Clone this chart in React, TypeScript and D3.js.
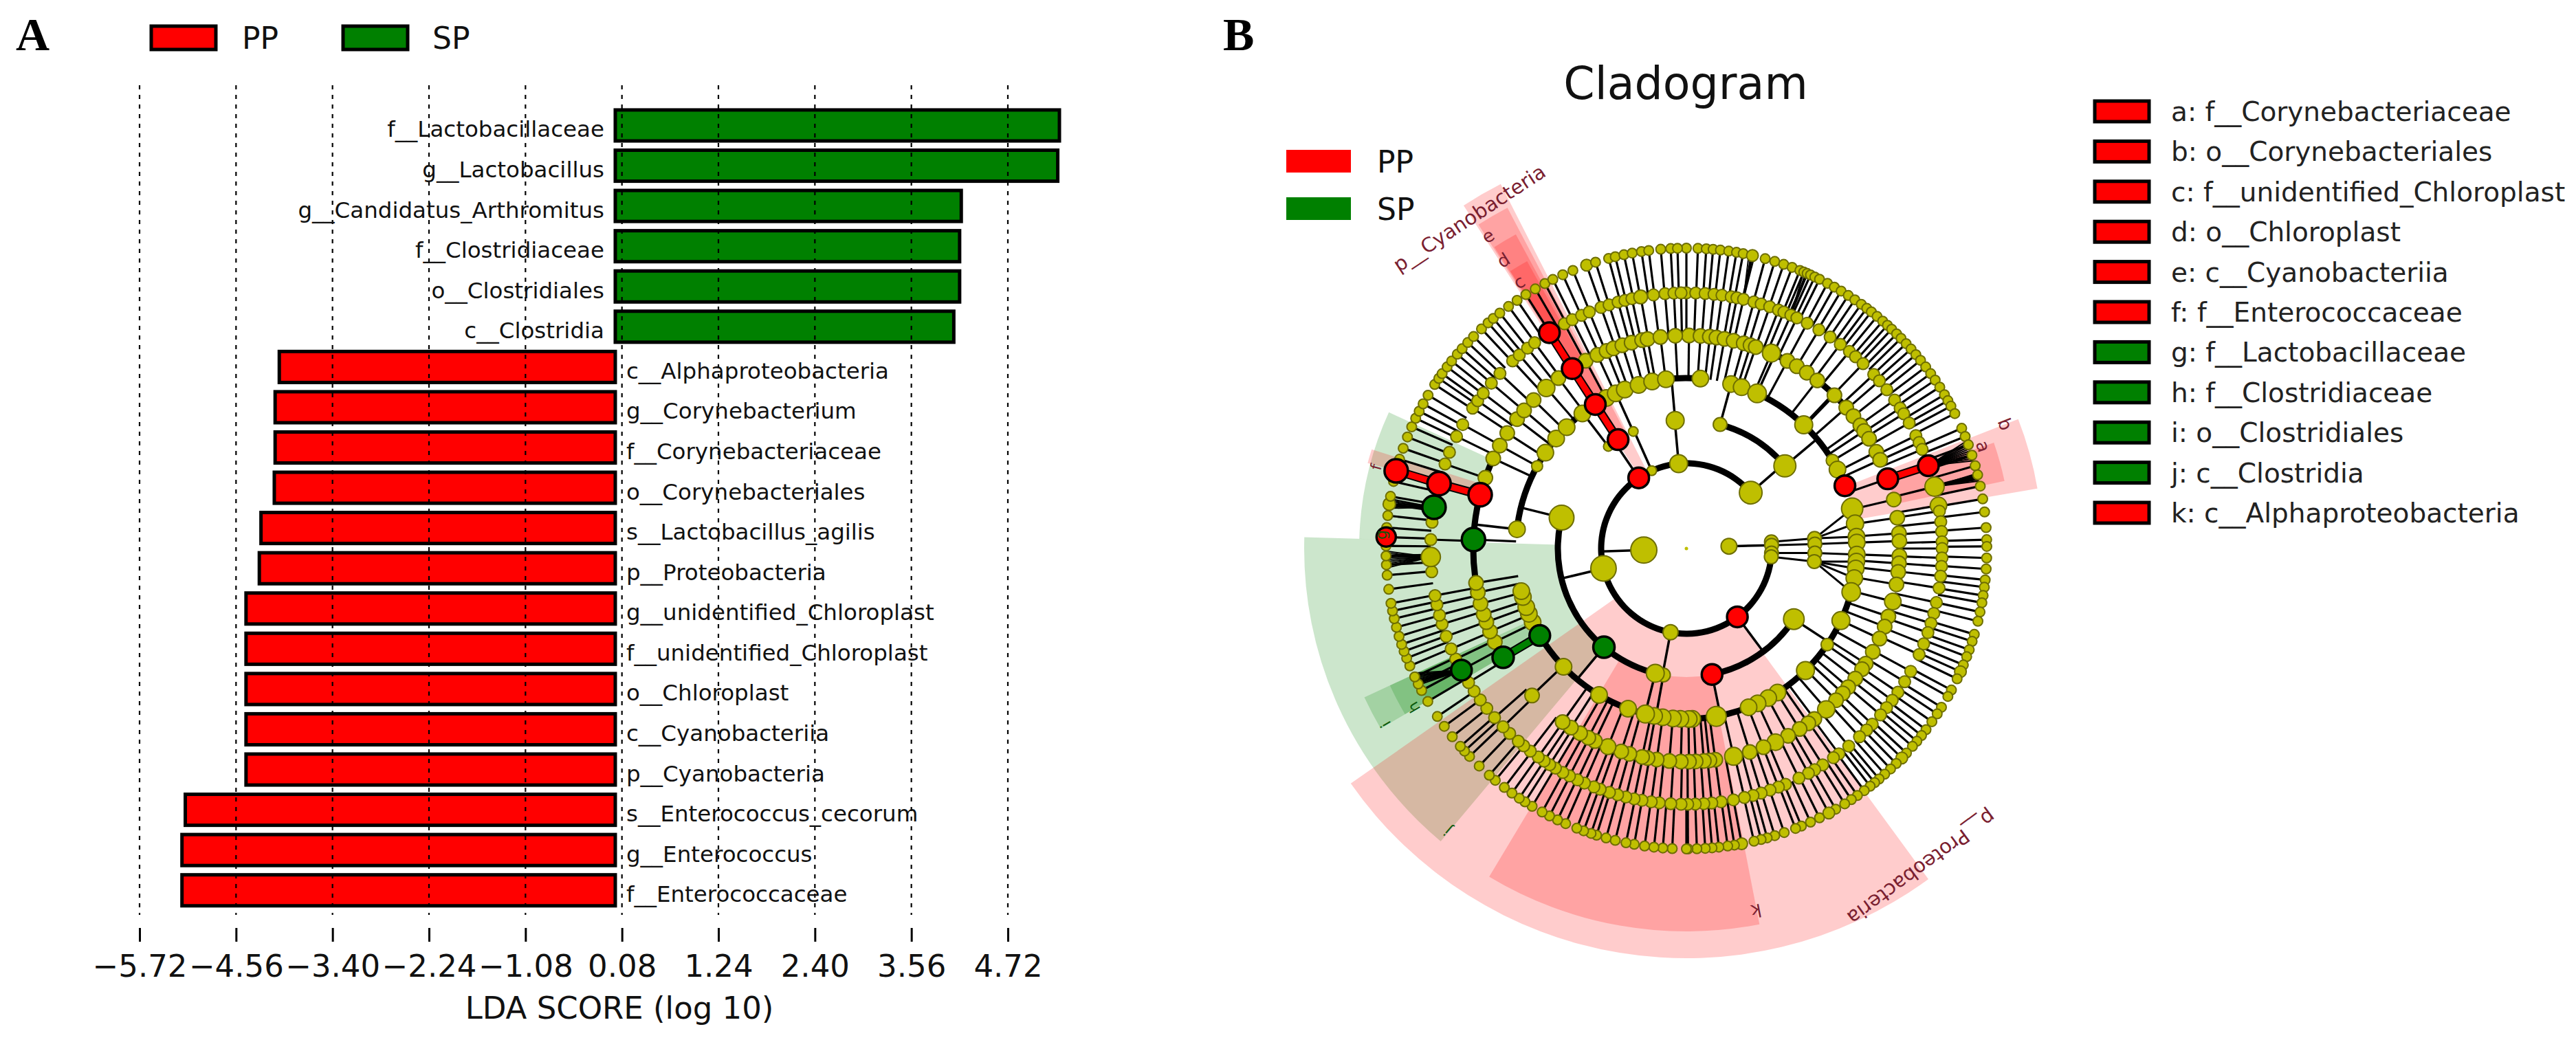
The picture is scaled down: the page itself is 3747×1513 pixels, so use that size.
import { useEffect, useRef } from 'react'
import * as d3 from 'd3'

const FONT = '"DejaVu Sans", sans-serif'
const PP = '#ff0000'
const SP = '#008000'
const OLIVE = '#bfbf00'

// LDA bars, top to bottom
const barLabels = [
  'f__Lactobacillaceae', 'g__Lactobacillus', 'g__Candidatus_Arthromitus', 'f__Clostridiaceae', 'o__Clostridiales',
  'c__Clostridia', 'c__Alphaproteobacteria', 'g__Corynebacterium', 'f__Corynebacteriaceae', 'o__Corynebacteriales',
  's__Lactobacillus_agilis', 'p__Proteobacteria', 'g__unidentified_Chloroplast', 'f__unidentified_Chloroplast',
  'o__Chloroplast', 'c__Cyanobacteriia', 'p__Cyanobacteria', 's__Enterococcus_cecorum', 'g__Enterococcus', 'f__Enterococcaceae'
]
const barValues = [
  5.34, 5.32, 4.16, 4.14, 4.14, 4.07, -4.04, -4.09, -4.09, -4.1, -4.26, -4.28, -4.44, -4.44, -4.44, -4.44, -4.44, -5.17, -5.21, -5.21
]
const ldaTicks = [-5.72, -4.56, -3.4, -2.24, -1.08, 0.08, 1.24, 2.4, 3.56, 4.72]

const cladeLegend = [
  'a: f__Corynebacteriaceae', 'b: o__Corynebacteriales', 'c: f__unidentified_Chloroplast', 'd: o__Chloroplast',
  'e: c__Cyanobacteriia', 'f: f__Enterococcaceae', 'g: f__Lactobacillaceae', 'h: f__Clostridiaceae',
  'i: o__Clostridiales', 'j: c__Clostridia', 'k: c__Alphaproteobacteria'
]
const cladeLegendGroups = ['PP', 'PP', 'PP', 'PP', 'PP', 'PP', 'SP', 'SP', 'SP', 'SP', 'PP']

// cladogram clades: angle in degrees, clockwise from the top, one list per taxonomic ring
const ring1 = [86.9, 268]
const ring2 = [49, 85.5, 87.8, 93, 95.6, 143.3, 190.7, 256.5, 326, 336, 354.8]
const ring3 = [15.2, 50, 85.5, 88, 92, 95.8, 123.3, 168.5, 190.3, 194, 219.9, 283.9, 322.6, 327.9, 335.6, 355]
const ring4 = [
  4.7, 15.2, 18.9, 24.5, 43.5, 58.9, 62.4, 68.4, 76.5, 81.6, 86, 88, 92, 94.4, 96.7, 100, 104.8, 115, 124.3, 135.7, 147.7,
  151.3, 155.3, 158.6, 169.9, 178, 179.2, 182, 184.5, 188, 190.9, 193.9, 200, 210.8, 226.1, 239.3, 244.4, 247.5, 249.9,
  253.5, 255.5, 276.5, 298.9, 304.2, 310.2, 315.4, 322.4, 327.7, 332, 335.5, 338.8, 343.7, 348.4, 353.1
]
const ring5 = [
  0.7, 3.8, 6.3, 8.1, 10.3, 12.8, 15.6, 17.5, 19, 23.5, 28.3, 31.2, 34.4, 37.9, 44, 48.6, 51.6, 54.7, 56.5, 59, 63, 65.4,
  70.9, 76.7, 81.7, 85.9, 88, 92, 94, 96.3, 99.7, 104.4, 108.6, 111.5, 115, 119, 122.7, 124.5, 127.6, 130.6, 132.8, 135.4,
  139, 143.1, 145.1, 147.9, 151.5, 155.3, 158.8, 162.7, 167.2, 172.2, 173.8, 175.3, 177.5, 179.3, 181.5, 184.6, 188, 190.5,
  192, 195.5, 197.8, 201.6, 205.4, 207.4, 209.9, 212.8, 215.5, 226.4, 239.3, 244, 247.1, 249.8, 252, 255, 258.1, 260.7,
  272.4, 284.6, 289.4, 295, 298.9, 302.8, 307.4, 310.4, 314.2, 318.9, 323.1, 327.6, 331.8, 335.3, 338, 340, 342.5, 345.1,
  348, 349.5, 353, 357
]
const ring6 = [
  0, 2.1, 4.2, 6.2, 8, 10.1, 11.4, 12.9, 15.3, 17, 19, 21.1, 22.4, 24.1, 25.6, 28.2, 31.2, 34.2, 37, 39.6, 41.4, 43.7, 47.1,
  49, 51.6, 54.5, 56.7, 58.2, 60.6, 63.8, 65.5, 67.2, 71.1, 76, 80.3, 81.6, 84, 86.2, 88.5, 90, 92.1, 94, 96.2, 98.9, 102.2,
  104.7, 107, 109.2, 111.9, 114.5, 118.7, 121.4, 124.2, 126.4, 128.5, 130.6, 133.4, 135.2, 137.4, 140.6, 143.4, 144.9, 147.8,
  149.9, 151.5, 153.9, 157.2, 158.9, 160.9, 163, 164.9, 166.9, 169.4, 172.2, 174.3, 176.1, 178, 179.7, 181.2, 183.5, 186.1,
  187.9, 190, 191.8, 193.7, 195.6, 197.5, 199.7, 201.2, 203.5, 205.2, 207.2, 208.9, 210.8, 212.3, 213.8, 215.4, 217.6, 219.5,
  221.1, 223.7, 225.8, 228.6, 231.3, 233.7, 236.1, 238.4, 241.6, 244.4, 246.9, 249.9, 252.8, 254.9, 257.3, 259.4, 264.8,
  268.1, 272, 275.9, 279.3, 284.7, 289.3, 292.1, 296, 299, 303.3, 305.3, 307.4, 310.3, 313.2, 317.2, 319.2, 321.6, 323.6,
  327.6, 331.5, 333.5, 335.8, 337.7, 340.5, 342.4, 344.5, 346.1, 347.7, 349.7, 352.6, 355.2, 357.2, 358.8
]
const ring7 = [
  0, 2.2, 3.8, 5.1, 6.5, 8.1, 9.6, 10.9, 12.7, 15.2, 17.1, 18.9, 20.6, 22.2, 23, 23.7, 24.4, 25.3, 26.3, 28, 29.5, 31, 32.6,
  34.1, 35.6, 36.9, 38, 39.4, 40.8, 42, 43.1, 44.4, 45.6, 47, 48.4, 49.8, 51.2, 52.8, 54.4, 55.9, 57.5, 59.2, 60.5, 61.7,
  63.3, 66.4, 68.1, 69.8, 71.9, 74, 75.8, 78, 80.5, 83, 86, 88.3, 89.6, 91.8, 93.9, 96, 97.4, 99, 100.4, 102.2, 104, 106.6,
  108, 109.7, 111.1, 112.8, 114.2, 115.7, 118.1, 119.5, 121.9, 123.4, 125.2, 127.1, 128.5, 129.9, 131.2, 132.9, 134.2, 135.7,
  137.2, 138.7, 140.1, 141.2, 142.3, 143.7, 145.3, 146.7, 148.2, 150.2, 151.7, 153.7, 155.6, 157.5, 158.7, 161, 162.9, 164.4,
  165.6, 167, 169.4, 170.8, 172.1, 173.8, 175.1, 176.4, 178, 179.7, 180, 182.7, 184.5, 186.2, 188, 190, 191.6, 193.7, 195.5,
  197.4, 198.5, 200, 201.4, 203.7, 205.4, 207.1, 208.7, 210.9, 212.5, 213.8, 215.5, 217.3, 219.5, 221, 223.6, 226.2, 227.6,
  228.8, 231.2, 233.7, 236, 239.4, 241.8, 243.2, 244.7, 247, 248.6, 250, 251.4, 253, 254.8, 256.5, 258, 259.5, 262.2, 264.9,
  266.9, 268.6, 270.5, 272.2, 274, 276.3, 278.5, 280, 282.9, 285, 287.3, 289.5, 291.8, 293.9, 295.7, 297.2, 298.8, 300.7,
  303.1, 304.5, 305.6, 307.2, 308.6, 310.3, 311.7, 313.3, 314.9, 317, 318.7, 320, 321.6, 323.7, 325.7, 327.7, 329.8, 331.9,
  333.6, 335.7, 337.8, 340.6, 342.4, 345, 346.3, 348, 349.6, 351.4, 352.8, 355.1, 357, 358.3
]
const rings = [ring1, ring2, ring3, ring4, ring5, ring6, ring7]

const ppClades = [
  [2, 143.3], [2, 326], [3, 168.5], [3, 327.9], [4, 68.4], [4, 327.7], [5, 70.9], [5, 284.6], [5, 327.6],
  [6, 71.1], [6, 284.7], [6, 327.6], [7, 272.2], [7, 285]
]
const spClades = [[3, 219.9], [4, 239.3], [5, 239.3], [5, 272.4], [6, 241.6], [6, 279.3]]

// clades drawn bigger than the rest of their ring: ring, angle, size
const bigClades = [
  [1, 268, 19], [1, 86.9, 11.5], [2, 49, 16.5], [2, 256.5, 18.5], [2, 190.7, 11], [2, 336, 7], [2, 354.8, 13],
  [2, 85.5, 10], [2, 87.8, 10], [2, 93, 10], [2, 95.6, 10], [2, 143.3, 15], [2, 326, 15],
  [3, 283.9, 18], [3, 50, 16], [3, 123.3, 15], [3, 15.2, 10], [3, 194, 13], [3, 190.3, 10], [3, 355, 13],
  [3, 322.6, 7], [3, 335.6, 7], [3, 85.5, 10], [3, 88, 10], [3, 92, 10], [3, 95.8, 10], [3, 168.5, 15], [3, 327.9, 15], [3, 219.9, 15.5],
  [4, 76.5, 15.5], [4, 81.6, 12.5], [4, 104.8, 13.5], [4, 24.5, 13.5], [4, 43.5, 13], [4, 193.9, 13], [4, 135.7, 13],
  [4, 169.9, 14.5], [4, 115, 13], [4, 124.3, 9], [4, 298.9, 8], [4, 58.9, 9], [4, 68.4, 15], [4, 327.7, 15], [4, 239.3, 15],
  [5, 23.5, 13], [5, 139, 12.5], [5, 167.2, 13], [5, 155.3, 12], [5, 201.6, 11.5], [5, 318.9, 12.5], [5, 104.4, 12],
  [5, 70.9, 15], [5, 284.6, 17], [5, 327.6, 15], [5, 239.3, 15.5], [5, 272.4, 17],
  [6, 349.7, 10], [6, 76, 14], [6, 268.1, 14], [6, 80.3, 12], [6, 71.1, 15], [6, 284.7, 17], [6, 327.6, 15], [6, 241.6, 15], [6, 279.3, 17],
  [7, 12.7, 8.5], [7, 340.6, 8.5], [7, 278.5, 9], [7, 151.7, 8.5], [7, 134.2, 8.5], [7, 169.4, 8.5], [7, 114.2, 8.5],
  [7, 285, 17], [7, 272.2, 14]
]

// thick arcs that join sibling clades, ring and angular span
const siblingArcs = [
  [2, 85, 409], [3, 15.2, 50], [3, 123.3, 168.5], [3, 190.3, 283.9],
  [4, 24.5, 68.4], [4, 76.5, 255.5], [4, 276.5, 322.4], [4, 332, 364.7],
  [5, 23.5, 48.6], [5, 255, 295]
]
// clades whose stem runs straight out to the next ring
const stems = [
  [1, 268], [2, 49], [2, 143.3], [2, 190.7], [2, 256.5], [2, 354.8], [2, 336], [2, 326],
  [3, 15.2], [3, 50], [3, 123.3], [3, 168.5], [3, 190.3], [3, 194], [3, 219.9], [3, 283.9], [3, 322.6], [3, 327.9], [3, 335.6], [3, 355],
  [4, 24.5], [4, 43.5], [4, 276.5]
]
// tight bundles of leaves hanging off one genus
const leafFans = [
  { parent: 71.1, leaves: [69, 69.4, 69.8, 70.2, 70.6, 71, 71.4, 71.8, 72.2, 72.6, 73] },
  { parent: 76, leaves: [75.5, 75.7, 75.9, 76.1, 76.3, 76.5, 76.7, 77] },
  { parent: 268.1, leaves: [266.3, 266.7, 267.1, 267.5, 267.9, 268.3, 268.7, 269.1, 269.5] },
  { parent: 241.6, leaves: [243, 243.3, 243.6, 243.9, 244.2, 244.5, 244.8, 245.1, 245.5] },
  { parent: 279.3, leaves: [277.7, 278, 278.3, 278.6, 278.9, 279.2, 279.5] },
  { parent: 12.9, leaves: [12, 12.4, 12.8, 13.1] },
  { parent: 24.1, leaves: [23, 23.4, 23.8] }
]
// biomarker chains joined by a coloured bar
const chains = [
  { group: 'PP', links: [[3, 327.9], [4, 327.7], [5, 327.6], [6, 327.6]] },
  { group: 'PP', links: [[5, 70.9], [6, 71.1]] },
  { group: 'PP', links: [[5, 284.6], [6, 284.7], [7, 285]] },
  { group: 'SP', links: [[4, 239.3], [5, 239.3]] }
]

// highlighted sectors: group, angular span, radial span
const sectors = [
  { group: 'SP', from: 220, to: 271.7, inner: 187, outer: 556 },
  { group: 'SP', from: 271.7, to: 294.6, inner: 310, outer: 476 },
  { group: 'SP', from: 239.5, to: 245.2, inner: 248, outer: 516 },
  { group: 'SP', from: 239.5, to: 245.2, inner: 310, outer: 475 },
  { group: 'SP', from: 239.5, to: 245.2, inner: 372, outer: 437 },
  { group: 'PP', from: 143.8, to: 235, inner: 124, outer: 596 },
  { group: 'PP', from: 169, to: 211, inner: 187, outer: 557 },
  { group: 'PP', from: 327, to: 333, inner: 124, outer: 595 },
  { group: 'PP', from: 327.3, to: 332.3, inner: 187, outer: 560 },
  { group: 'PP', from: 327.5, to: 331.5, inner: 248, outer: 520 },
  { group: 'PP', from: 327.6, to: 331, inner: 310, outer: 478 },
  { group: 'PP', from: 327.6, to: 330, inner: 372, outer: 437 },
  { group: 'PP', from: 68.7, to: 80.3, inner: 248, outer: 518 },
  { group: 'PP', from: 71, to: 78, inner: 310, outer: 473 },
  { group: 'PP', from: 285, to: 287.5, inner: 310, outer: 480 }
]
const sectorLabels = [
  { text: 'p__Cyanobacteria', group: 'PP', angle: 326.7, radius: 573, size: 29 },
  { text: 'p__Proteobacteria', group: 'PP', angle: 143.6, radius: 574, size: 29 },
  { text: 'a', group: 'PP', angle: 71, radius: 455, size: 26 },
  { text: 'b', group: 'PP', angle: 68.7, radius: 496, size: 26 },
  { text: 'c', group: 'PP', angle: 327.9, radius: 456, size: 26 },
  { text: 'd', group: 'PP', angle: 327.6, radius: 495, size: 26 },
  { text: 'e', group: 'PP', angle: 327.6, radius: 537, size: 26 },
  { text: 'f', group: 'PP', angle: 284.7, radius: 465, size: 22 },
  { text: 'g', group: 'SP', angle: 272.6, radius: 443, size: 22 },
  { text: 'h', group: 'SP', angle: 239.8, radius: 457, size: 22 },
  { text: 'i', group: 'SP', angle: 239.7, radius: 505, size: 22 },
  { text: 'j', group: 'SP', angle: 220.2, radius: 536, size: 22 },
  { text: 'k', group: 'PP', angle: 169.1, radius: 535, size: 26 }
]

const ringRadius = [0, 62, 124, 187, 248, 310, 372, 437]
const ringNodeSize = [0, 12, 12, 12.5, 12, 10.5, 8.5, 7]
// how far a clade may sit from its parent's angle and still get a stem
const stemReach = [0, 0, 0, 0, 0, 6, 2.5, 3]
const groupColor = (g: string) => (g === 'PP' ? PP : SP)
const rad = (a: number) => (a * Math.PI) / 180

function drawBars(svg: d3.Selection<SVGSVGElement, unknown, null, undefined>) {
  const x = d3.scaleLinear().domain([-5.72, 4.72]).range([203, 1466])
  const y = d3.scaleBand().domain(barLabels).range([153.2, 1324.5]).paddingInner(0.23).paddingOuter(0.115)
  const g = svg.append('g')

  g.selectAll('rect.bar')
    .data(barLabels)
    .enter()
    .append('rect')
    .attr('class', 'bar')
    .attr('x', (_, i) => Math.min(x(0), x(barValues[i])))
    .attr('y', d => y(d) || 0)
    .attr('width', (_, i) => Math.abs(x(barValues[i]) - x(0)))
    .attr('height', y.bandwidth())
    .attr('fill', (_, i) => (barValues[i] > 0 ? SP : PP))
    .attr('stroke', '#000')
    .attr('stroke-width', 5)

  // dotted grid sits over the bars
  g.selectAll('line.grid')
    .data(ldaTicks)
    .enter()
    .append('line')
    .attr('class', 'grid')
    .attr('x1', d => x(d))
    .attr('x2', d => x(d))
    .attr('y1', 124)
    .attr('y2', 1331)
    .attr('stroke', '#000')
    .attr('stroke-width', 2.2)
    .attr('stroke-dasharray', '6 8')

  g.selectAll('text.barlabel')
    .data(barLabels)
    .enter()
    .append('text')
    .attr('class', 'barlabel')
    .attr('x', (_, i) => (barValues[i] > 0 ? x(0) - 16 : x(0) + 16))
    .attr('y', d => (y(d) || 0) + y.bandwidth() / 2 + 17)
    .attr('text-anchor', (_, i) => (barValues[i] > 0 ? 'end' : 'start'))
    .attr('font-size', 32.5)
    .attr('fill', '#111')
    .text(d => d)

  const axis = d3
    .axisBottom(x)
    .tickValues(ldaTicks)
    .tickSize(-20)
    .tickSizeOuter(0)
    .tickPadding(0)
    .tickFormat(d => d3.format('.2f')(d as number).replace('-', '\u2212'))
  const axisG = g.append('g').attr('transform', 'translate(0,1370)').call(axis)
  axisG.select('.domain').remove()
  axisG.selectAll('.tick line').attr('stroke', '#000').attr('stroke-width', 3)
  axisG
    .selectAll('.tick text')
    .attr('y', 51)
    .attr('dy', 0)
    .attr('font-size', 45)
    .attr('font-family', FONT)
    .attr('fill', '#111')

  g.append('text')
    .attr('x', 901)
    .attr('y', 1482)
    .attr('text-anchor', 'middle')
    .attr('font-size', 45)
    .attr('fill', '#111')
    .text('LDA SCORE (log 10)')

  // legend
  ;['PP', 'SP'].forEach((name, i) => {
    g.append('rect')
      .attr('x', 220 + i * 279)
      .attr('y', 38)
      .attr('width', 94)
      .attr('height', 34)
      .attr('fill', groupColor(name))
      .attr('stroke', '#000')
      .attr('stroke-width', 5)
    g.append('text')
      .attr('x', 352 + i * 277)
      .attr('y', 71)
      .attr('font-size', 44)
      .attr('fill', '#111')
      .text(name)
  })
}

function drawCladogram(svg: d3.Selection<SVGSVGElement, unknown, null, undefined>) {
  const g = svg.append('g').attr('transform', 'translate(2453,798)')
  const point = (ring: number, angle: number) => d3.pointRadial(rad(angle), ringRadius[ring])
  const arc = d3.arc<any>()
  const sector = (from: number, to: number, inner: number, outer: number) =>
    arc({ innerRadius: inner, outerRadius: outer, startAngle: rad(from), endAngle: rad(to) }) || ''

  const sectorOrder = [...sectors].sort((a, b) => d3.descending(a.group, b.group))
  g.selectAll('path.sector')
    .data(sectorOrder)
    .enter()
    .append('path')
    .attr('class', 'sector')
    .attr('d', d => sector(d.from, d.to, d.inner, d.outer))
    .attr('fill', d => groupColor(d.group))
    .attr('fill-opacity', 0.2)

  const segments: { a: number[]; b: number[]; w: number }[] = []
  const gap = (a: number, b: number) => {
    const diff = Math.abs(a - b) % 360
    return Math.min(diff, 360 - diff)
  }
  const nearest = (list: number[], angle: number) => d3.least(list, v => gap(v, angle)) as number

  // stems out to the sibling arcs
  stems.forEach(([ring, angle]) => segments.push({ a: point(ring, angle), b: point(ring + 1, angle), w: 3.5 }))
  // the fan around 90 degrees has no sibling arc
  segments.push({ a: point(1, 86.9), b: point(2, 87.8), w: 3.5 })
  ring3.filter(a => a > 80 && a < 100).forEach(a => segments.push({ a: point(2, nearest(ring2, a)), b: point(3, a), w: 3 }))
  ring4.filter(a => a > 76 && a < 105).forEach(a => segments.push({ a: point(3, nearest([85.5, 88, 92, 95.8], a)), b: point(4, a), w: 3 }))
  // outer rings run straight back to the ring inside, where that ring has a clade close by
  ;[5, 6, 7].forEach(ring => {
    rings[ring - 1].forEach(a => {
      if (gap(nearest(rings[ring - 2], a), a) <= stemReach[ring]) {
        segments.push({ a: point(ring - 1, a), b: point(ring, a), w: 3.2 })
      }
    })
  })
  leafFans.forEach(fan => fan.leaves.forEach(a => segments.push({ a: point(6, fan.parent), b: point(7, a), w: 2 })))

  g.selectAll('line.link')
    .data(segments)
    .enter()
    .append('line')
    .attr('class', 'link')
    .attr('x1', d => d.a[0])
    .attr('y1', d => d.a[1])
    .attr('x2', d => d.b[0])
    .attr('y2', d => d.b[1])
    .attr('stroke', '#000')
    .attr('stroke-width', d => d.w)

  g.selectAll('path.sibling')
    .data(siblingArcs)
    .enter()
    .append('path')
    .attr('class', 'sibling')
    .attr('d', ([ring, from, to]) => sector(from, to, ringRadius[ring] - 4.5, ringRadius[ring] + 4.5))
    .attr('fill', '#000')

  chains.forEach(chain => {
    const path = d3.line()(chain.links.map(([r, a]) => point(r, a) as [number, number])) || ''
    g.append('path').attr('d', path).attr('fill', 'none').attr('stroke', '#000').attr('stroke-width', 13)
    g.append('path').attr('d', path).attr('fill', 'none').attr('stroke', groupColor(chain.group)).attr('stroke-width', 9)
  })

  const hit = (list: number[][], ring: number, angle: number) => list.find(c => c[0] === ring && c[1] === angle)
  const nodes = rings.flatMap((list, i) =>
    list.map(angle => {
      const ring = i + 1
      const big = hit(bigClades, ring, angle)
      const group = hit(ppClades, ring, angle) ? 'PP' : hit(spClades, ring, angle) ? 'SP' : null
      return { ring, angle, group, size: big ? big[2] : ringNodeSize[ring] }
    })
  )
  const nodeOrder = [...nodes.filter(n => !n.group), ...nodes.filter(n => n.group)]
  g.selectAll('circle.clade')
    .data(nodeOrder)
    .enter()
    .append('circle')
    .attr('class', 'clade')
    .attr('cx', d => point(d.ring, d.angle)[0])
    .attr('cy', d => point(d.ring, d.angle)[1])
    .attr('r', d => d.size)
    .attr('fill', d => (d.group ? groupColor(d.group) : OLIVE))
    .attr('stroke', d => (d.group ? '#000' : '#6e6e00'))
    .attr('stroke-width', d => (d.group ? 3.5 : 2))

  g.append('circle').attr('r', 2.5).attr('fill', OLIVE)

  sectorLabels.forEach(l => {
    const [px, py] = d3.pointRadial(rad(l.angle), l.radius)
    g.append('text')
      .attr('transform', `translate(${px},${py}) rotate(${l.angle})`)
      .attr('text-anchor', 'middle')
      .attr('dominant-baseline', 'middle')
      .attr('font-size', l.size)
      .attr('fill', l.group === 'PP' ? '#7a2030' : '#0c5a0c')
      .text(l.text)
  })

  svg.append('text')
    .attr('x', 2452)
    .attr('y', 144)
    .attr('text-anchor', 'middle')
    .attr('font-size', 65)
    .attr('fill', '#111')
    .text('Cladogram')

  ;['PP', 'SP'].forEach((name, i) => {
    svg.append('rect')
      .attr('x', 1871)
      .attr('y', 218 + i * 69)
      .attr('width', 94)
      .attr('height', 33)
      .attr('fill', groupColor(name))
    svg.append('text')
      .attr('x', 2003)
      .attr('y', 251 + i * 69)
      .attr('font-size', 44)
      .attr('fill', '#111')
      .text(name)
  })

  const rowY = d3.scalePoint().domain(cladeLegend).range([162, 746])
  svg.selectAll('rect.cladekey')
    .data(cladeLegend)
    .enter()
    .append('rect')
    .attr('class', 'cladekey')
    .attr('x', 3047)
    .attr('y', d => (rowY(d) || 0) - 15)
    .attr('width', 79)
    .attr('height', 30)
    .attr('fill', (_, i) => groupColor(cladeLegendGroups[i]))
    .attr('stroke', '#000')
    .attr('stroke-width', 5)
  svg.selectAll('text.cladekey')
    .data(cladeLegend)
    .enter()
    .append('text')
    .attr('class', 'cladekey')
    .attr('x', 3158)
    .attr('y', d => (rowY(d) || 0) + 14)
    .attr('font-size', 39)
    .attr('fill', '#222')
    .text(d => d)
}

export default function App() {
  const svgRef = useRef<SVGSVGElement>(null)

  useEffect(() => {
    if (!svgRef.current) return
    const svg = d3.select(svgRef.current)
    svg.selectAll('*').remove()

    drawBars(svg)
    drawCladogram(svg)

    ;['A', 'B'].forEach((letter, i) => {
      svg.append('text')
        .attr('x', i === 0 ? 23 : 1779)
        .attr('y', 73)
        .attr('font-family', '"Liberation Serif", serif')
        .attr('font-weight', 'bold')
        .attr('font-size', 68)
        .attr('fill', '#000')
        .text(letter)
    })
  }, [])

  return (
    <svg
      ref={svgRef}
      width={3747}
      height={1513}
      style={{ position: 'absolute', left: 0, top: 0, background: '#fff', fontFamily: FONT }}
    />
  )
}
